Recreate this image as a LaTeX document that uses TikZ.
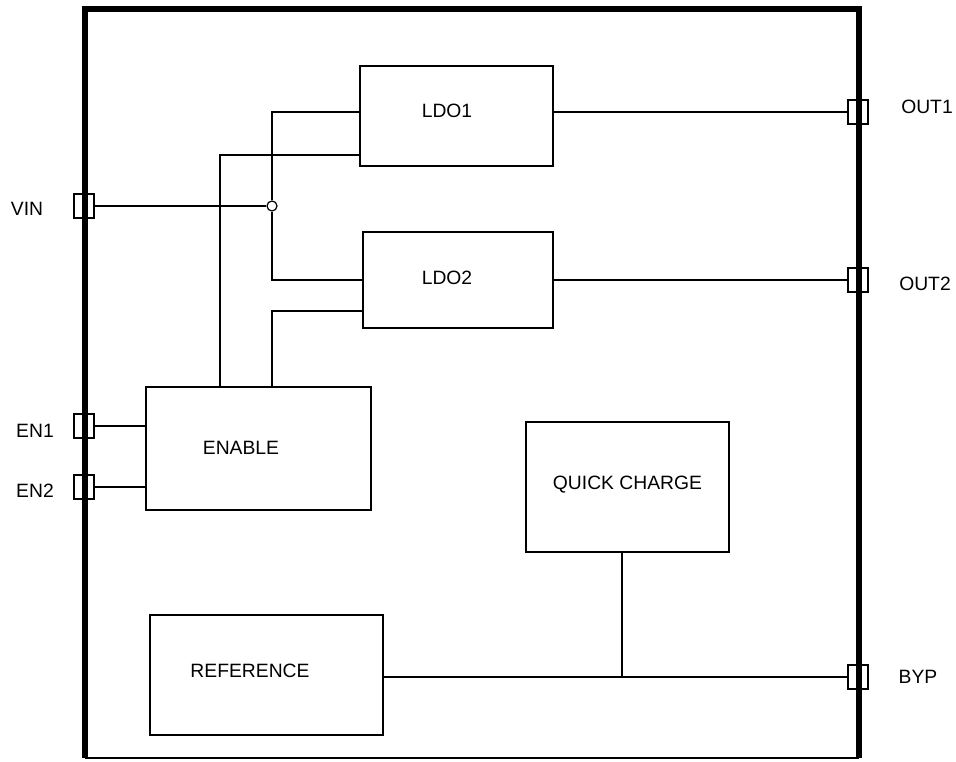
\documentclass[tikz,border=0pt]{standalone}
\usepackage{fontspec}
\setmainfont{Liberation Sans}
\usepackage{tikz}
\usetikzlibrary{positioning}

\begin{document}
\begin{tikzpicture}[x=1pt,y=-1pt,line width=1.6pt,
    block/.style={draw,inner sep=0pt},
    blocktext/.style={inner sep=0pt,font=\fontsize{19.3}{22}\selectfont},
    pad/.style={draw,inner sep=0pt,minimum width=20pt,minimum height=24pt},
    padtext/.style={inner sep=0pt,anchor=base,font=\fontsize{19.3}{22}\selectfont}]

  \useasboundingbox (0,0) rectangle (956,761);

  % Package outline (thick on three sides)
  \draw[line width=6pt,line join=miter] (85,758) -- (85,9) -- (859,9) -- (859,758);
  \draw (85,758) -- (859,758);

  % Blocks
  \node[block,minimum width=193pt,minimum height=100pt,
        label={[blocktext,xshift=-9.5pt,yshift=5pt]center:LDO1}] (ldo1) at (456.5,116) {};
  \node[block,minimum width=190pt,minimum height=96pt,
        label={[blocktext,xshift=-11pt,yshift=2pt]center:LDO2}] (ldo2) at (458,280) {};
  \node[block,minimum width=225pt,minimum height=123pt,
        label={[blocktext,xshift=-17.5pt,yshift=1pt]center:ENABLE}] (enable) at (258.5,448.5) {};
  \node[block,minimum width=203pt,minimum height=130pt,
        label={[blocktext,yshift=2.5pt]center:QUICK CHARGE}] (qc) at (627.5,487) {};
  \node[block,minimum width=233pt,minimum height=120pt,
        label={[blocktext,xshift=-16.5pt,yshift=4.5pt]center:REFERENCE}] (ref) at (266.5,675) {};

  % Pads
  \node[pad] (vin)  at (84,206)  {};
  \node[pad] (en1)  at (84,426)  {};
  \node[pad] (en2)  at (84,487)  {};
  \node[pad] (out1) at (858,112) {};
  \node[pad] (out2) at (858,280) {};
  \node[pad] (byp)  at (858,677) {};

  \node[padtext] (vinlbl)  at (27,215)  {VIN};
  \node[padtext] (en1lbl)  at (35,437)  {EN1};
  \node[padtext] (en2lbl)  at (35,497)  {EN2};
  \node[padtext] (out1lbl) at (927,113) {OUT1};
  \node[padtext] (out2lbl) at (925,290) {OUT2};
  \node[padtext] (byplbl)  at (918,683) {BYP};

  % VIN junction
  \node[draw,circle,fill=white,inner sep=0pt,minimum size=10pt,line width=1.2pt] (jn) at (272,206) {};

  % Supply to both LDOs
  \draw (vin.east) -- (jn.west);
  \draw (jn.north) |- (ldo1.west |- out1.west);
  \draw (jn.south) |- (ldo2.west |- out2.west);

  % Enable lines
  \draw ([xshift=75pt]enable.north west) |- ([yshift=12pt]ldo1.south west);
  \draw ([xshift=127pt]enable.north west) |- ([yshift=18pt]ldo2.south west);
  \draw (en1.east) -- (en1.east -| enable.west);
  \draw (en2.east) -- (en2.east -| enable.west);

  % Outputs
  \draw (ldo1.east |- out1.west) -- (out1.west);
  \draw (ldo2.east |- out2.west) -- (out2.west);

  % Bypass
  \draw (ref.east |- byp.west) -- (byp.west);
  \draw ([xshift=-5.5pt]qc.south) -- ([xshift=-5.5pt]qc.south |- byp.west);

\end{tikzpicture}
\end{document}
